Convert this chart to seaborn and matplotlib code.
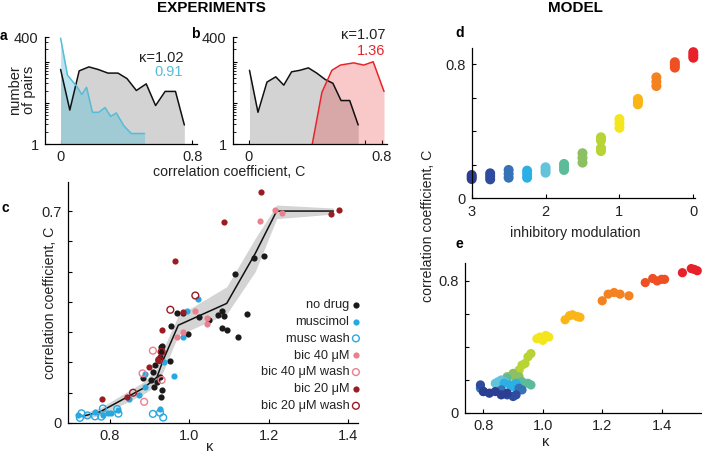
import matplotlib
matplotlib.use("Agg")
import matplotlib.pyplot as plt
from matplotlib.ticker import NullFormatter, FixedLocator
import seaborn as sns
import numpy as np
import pandas as pd

# ---------------- data ----------------
# panel a: histograms (number of pairs vs correlation coefficient)
a_nodrug_x = [0.0, 0.056, 0.113, 0.172, 0.228, 0.288, 0.349, 0.404, 0.461, 0.521, 0.578, 0.636, 0.699, 0.753]
a_nodrug_y = [65, 6.7, 60, 75, 65, 53, 53, 39, 20, 29, 8.6, 19, 19, 2.9]
a_musc_x = [0.0, 0.042, 0.099, 0.129, 0.158, 0.194, 0.232, 0.27, 0.305, 0.339, 0.384, 0.43, 0.511]
a_musc_y = [373, 47, 25, 16, 24, 5.9, 5.9, 7.7, 4.7, 5.7, 2.8, 1.8, 1.8]
# panel b
b_nodrug_x = [0.004, 0.055, 0.109, 0.162, 0.21, 0.257, 0.307, 0.358, 0.408, 0.459, 0.505, 0.554, 0.606, 0.657]
b_nodrug_y = [62, 5.9, 32, 43, 27, 57, 62, 71, 53, 37, 30, 11.4, 11.4, 2.9]
b_bic_x = [0.378, 0.439, 0.499, 0.55, 0.63, 0.69, 0.747, 0.812]
b_bic_y = [0.85, 18, 62, 83, 94, 83, 100, 19]
kappa_a = ["κ=1.02", "0.91"]
kappa_b = ["κ=1.07", "1.36"]

# panel c: correlation vs kappa, per condition
nodrug_k = [0.883, 0.903, 0.908, 0.911, 0.914, 0.919, 0.925, 0.925, 0.928, 0.929, 0.928, 0.931, 0.93, 0.95, 0.953,
            0.968, 0.983, 0.996, 1.023, 1.05, 1.073, 1.083, 1.088, 1.082, 1.096, 1.122, 1.145, 1.115, 1.164, 1.189]
nodrug_c = [0.147, 0.142, 0.169, 0.118, 0.191, 0.136, 0.153, 0.219, 0.235, 0.252, 0.085, 0.109, 0.255, 0.206, 0.321,
            0.364, 0.364, 0.294, 0.349, 0.34, 0.356, 0.37, 0.353, 0.315, 0.307, 0.283, 0.36, 0.492, 0.546, 0.551]
musc_k = [0.719, 0.763, 0.782, 0.795, 0.803, 0.82, 0.847, 0.872, 0.888, 0.888, 0.925, 0.936, 0.961, 0.983, 0.993, 1.021]
musc_c = [0.026, 0.037, 0.026, 0.032, 0.034, 0.043, 0.078, 0.092, 0.118, 0.162, 0.045, 0.202, 0.155, 0.285, 0.37, 0.408]
muscw_k = [0.724, 0.728, 0.743, 0.762, 0.778, 0.782, 0.818, 0.821, 0.908, 0.926, 0.934]
muscw_c = [0.017, 0.032, 0.025, 0.022, 0.021, 0.048, 0.046, 0.031, 0.03, 0.034, 0.018]
bic40_k = [0.968, 0.983, 1.014, 1.044, 1.045, 1.177, 1.216, 1.233]
bic40_c = [0.285, 0.301, 0.37, 0.346, 0.327, 0.668, 0.705, 0.694]
bic40w_k = [0.882, 0.886, 0.908, 0.93]
bic40w_c = [0.164, 0.07, 0.239, 0.142]
bic20_k = [0.779, 0.842, 0.899, 0.922, 0.932, 0.963, 0.984, 1.086, 1.181, 1.357, 1.378]
bic20_c = [0.078, 0.087, 0.186, 0.208, 0.306, 0.535, 0.367, 0.664, 0.763, 0.69, 0.703]
bic20w_k = [0.858, 0.924, 0.93, 0.952, 1.015]
bic20w_c = [0.10, 0.208, 0.235, 0.374, 0.421]
# binned mean and band
mean_k = [0.733, 0.775, 0.884, 0.918, 0.934, 0.972, 1.094, 1.166, 1.22, 1.363]
mean_c = [0.023, 0.037, 0.115, 0.151, 0.208, 0.323, 0.395, 0.56, 0.70, 0.70]
band_lo = [0.013, 0.025, 0.095, 0.125, 0.17, 0.29, 0.36, 0.50, 0.675, 0.69]
band_hi = [0.033, 0.05, 0.135, 0.18, 0.245, 0.355, 0.45, 0.61, 0.72, 0.71]
conditions = ["no drug", "muscimol", "musc wash", "bic 40 μM", "bic 40 μM wash", "bic 20 μM", "bic 20 μM wash"]

# panel d / e: model
modulation = [3.0, 2.75, 2.5, 2.25, 2.0, 1.75, 1.5, 1.25, 1.0, 0.75, 0.5, 0.25, 0.0]
d_C = [[0.115, 0.127, 0.139], [0.113, 0.131, 0.149], [0.123, 0.146, 0.169], [0.123, 0.144, 0.165],
       [0.153, 0.169, 0.185], [0.169, 0.187, 0.205], [0.213, 0.241, 0.269], [0.282, 0.30, 0.345, 0.364],
       [0.421, 0.447, 0.473], [0.561, 0.577, 0.593], [0.67, 0.696, 0.722], [0.78, 0.796, 0.812],
       [0.839, 0.855, 0.872]]
e_K = [[0.80, 0.82, 0.84, 0.86, 0.88], [0.79, 0.80, 0.88, 0.90, 0.91], [0.79, 0.86, 0.92, 0.93],
       [0.87, 0.89, 0.90, 0.91], [0.84, 0.85, 0.86, 0.87], [0.88, 0.93, 0.95, 0.96],
       [0.88, 0.90, 0.91, 0.92], [0.92, 0.93, 0.94, 0.95, 0.96], [0.98, 0.99, 1.00, 1.01, 1.02],
       [1.075, 1.09, 1.10, 1.115, 1.125], [1.20, 1.22, 1.24, 1.26, 1.29], [1.345, 1.37, 1.385, 1.40, 1.41],
       [1.47, 1.50, 1.51, 1.52]]
e_C = [[0.13, 0.12, 0.13, 0.11, 0.12], [0.17, 0.13, 0.11, 0.10, 0.11], [0.15, 0.14, 0.15, 0.14],
       [0.18, 0.17, 0.16, 0.18], [0.18, 0.19, 0.20, 0.19], [0.21, 0.19, 0.18, 0.17],
       [0.22, 0.24, 0.21, 0.22], [0.26, 0.29, 0.30, 0.34, 0.36], [0.45, 0.46, 0.44, 0.47, 0.46],
       [0.565, 0.59, 0.595, 0.585, 0.58], [0.68, 0.72, 0.73, 0.72, 0.71], [0.79, 0.815, 0.80, 0.81, 0.81],
       [0.85, 0.875, 0.87, 0.862]]
level_colors = ["#2c3e92", "#2f4b9e", "#3672b6", "#2bb0e6", "#63c3d9", "#5cbc9a", "#8cc063",
                "#b7d334", "#f4e61c", "#fbb516", "#f58220", "#ee5024", "#e8202a"]

# ---------------- style ----------------
sns.set_theme(style="ticks")
plt.rcParams['font.family'] = ['Liberation Sans', 'DejaVu Sans']
plt.rcParams.update({
    'axes.linewidth': 0.9, 'xtick.direction': 'in', 'ytick.direction': 'in',
    'xtick.major.size': 3, 'ytick.major.size': 3, 'xtick.minor.size': 1.8, 'ytick.minor.size': 1.8,
    'xtick.major.width': 0.8, 'ytick.major.width': 0.8, 'ytick.minor.width': 0.6,
    'xtick.labelsize': 10.5, 'ytick.labelsize': 10.5, 'xtick.color': 'black', 'ytick.color': 'black',
    'xtick.labelcolor': '#222222', 'ytick.labelcolor': '#222222',
    'xtick.major.pad': 4.5, 'ytick.major.pad': 4.5, 'axes.edgecolor': 'black', 'text.color': '#222222',
})

W, H = 702, 453
fig = plt.figure(figsize=(W / 100, H / 100), dpi=100)


def ax_px(l, t, r, b):
    ax = fig.add_axes([l / W, 1 - b / H, (r - l) / W, (b - t) / H])
    sns.despine(ax=ax)
    ax.patch.set_alpha(0)
    return ax


def txt(x, y, s, **kw):
    kw.setdefault('ha', 'center')
    kw.setdefault('va', 'center')
    fig.text(x / W, 1 - y / H, s, **kw)


GRAY = '#d3d3d3'
CYAN = '#55bdd6'
RED = '#e8242b'


def hist_axes(ax):
    ax.set_yscale('log')
    ax.set_ylim(1, 400)
    ax.set_xlim(-0.095, 0.83)
    ax.set_xticks(np.arange(0, 0.81, 0.1))
    ax.set_xticklabels(['0', '', '', '', '', '', '', '', '0.8'])
    ax.set_yticks([1, 10, 100, 400])
    ax.set_yticklabels(['1', '', '', '400'])
    ax.yaxis.set_minor_locator(FixedLocator([v for d in (1, 10, 100) for v in np.arange(2, 10) * d if v < 400]))
    ax.yaxis.set_minor_formatter(NullFormatter())
    ax.set_xlabel('')
    ax.set_ylabel('')


# ---- panel a ----
axa = ax_px(45, 37, 197, 144)
axa.fill_between(a_nodrug_x, a_nodrug_y, 0.5, color=GRAY, lw=0)
axa.fill_between(a_musc_x, a_musc_y, 0.5, color=CYAN, alpha=0.4, lw=0)
sns.lineplot(x=a_nodrug_x, y=a_nodrug_y, ax=axa, color='#111111', lw=1.1, estimator=None, sort=False)
sns.lineplot(x=a_musc_x, y=a_musc_y, ax=axa, color=CYAN, lw=1.1, estimator=None, sort=False)
hist_axes(axa)

# ---- panel b ----
axb = ax_px(233, 37, 387, 144)
axb.fill_between(b_nodrug_x, b_nodrug_y, 0.5, color=GRAY, lw=0)
axb.fill_between(b_bic_x, b_bic_y, 0.5, color=RED, alpha=0.25, lw=0)
sns.lineplot(x=b_nodrug_x, y=b_nodrug_y, ax=axb, color='#111111', lw=1.1, estimator=None, sort=False)
sns.lineplot(x=b_bic_x, y=b_bic_y, ax=axb, color=RED, lw=1.1, estimator=None, sort=False)
hist_axes(axb)

# ---- panel c ----
axc = ax_px(68, 182, 358, 423)
axc.fill_between(mean_k, band_lo, band_hi, color='#d4d4d4', lw=0)
sns.lineplot(x=mean_k, y=mean_c, ax=axc, color='#111111', lw=1.1, estimator=None, sort=False)
cond_data = [(nodrug_k, nodrug_c, '#1a1a1a', True), (musc_k, musc_c, '#29a8e0', True),
             (muscw_k, muscw_c, '#29a8e0', False), (bic40_k, bic40_c, '#ec7f8e', True),
             (bic40w_k, bic40w_c, '#ec7f8e', False), (bic20_k, bic20_c, '#9a1c22', True),
             (bic20w_k, bic20w_c, '#9a1c22', False)]
for (kx, cy, col, filled), name in zip(cond_data, conditions):
    if filled:
        sns.scatterplot(x=kx, y=cy, ax=axc, color=col, s=20, linewidth=0, label=name, zorder=3)
    else:
        sns.scatterplot(x=kx, y=cy, ax=axc, facecolor='none', edgecolor=col, s=24, linewidth=1.0,
                        label=name, zorder=3)
axc.set_xlim(0.694, 1.425)
axc.set_ylim(0, 0.796)
axc.set_xticks([0.8, 1.0, 1.2, 1.4])
axc.set_xticklabels(['0.8', '1.0', '1.2', '1.4'])
axc.set_yticks(np.arange(0, 0.71, 0.1))
axc.set_yticklabels(['0', '', '', '', '', '', '', '0.7'])
axc.set_xlabel('')
axc.set_ylabel('')
axc.legend(loc='upper right', bbox_to_anchor=(361 / W, 1 - 299 / H), bbox_transform=fig.transFigure,
           markerfirst=False, frameon=False, fontsize=9.2, handletextpad=0.1, labelspacing=0.38,
           borderaxespad=0, borderpad=0, handlelength=0.8, scatterpoints=1, labelcolor='#222222')

# ---- panel d ----
axd = ax_px(471.7, 48, 695, 198.3)
d_df = pd.DataFrame([(m, c, i) for i, (m, cs) in enumerate(zip(modulation, d_C)) for c in cs],
                    columns=['modulation', 'C', 'level'])
sns.scatterplot(data=d_df, x='modulation', y='C', hue='level', palette=level_colors, ax=axd,
                s=52, linewidth=0, legend=False, clip_on=False)
axd.set_xlim(3, -0.023)
axd.set_ylim(0, 0.897)
axd.set_xticks([3, 2, 1, 0])
axd.set_xticklabels(['3', '2', '1', '0'])
axd.set_yticks([0, 0.2, 0.4, 0.6, 0.8])
axd.set_yticklabels(['0', '', '', '', '0.8'])
axd.set_xlabel('')
axd.set_ylabel('')

# ---- panel e ----
axe = ax_px(465, 263.3, 701.7, 413)
e_df = pd.DataFrame([(k, c, i) for i in range(len(e_K)) for k, c in zip(e_K[i], e_C[i])],
                    columns=['kappa', 'C', 'level'])
e_df = e_df.iloc[::-1]
sns.scatterplot(data=e_df, x='kappa', y='C', hue='level', palette=level_colors, ax=axe,
                s=44, linewidth=0, legend=False, clip_on=False)
axe.set_xlim(0.738, 1.535)
axe.set_ylim(0, 0.907)
axe.set_xticks([0.8, 1.0, 1.2, 1.4])
axe.set_xticklabels(['0.8', '1.0', '1.2', '1.4'])
axe.set_yticks([0, 0.2, 0.4, 0.6, 0.8])
axe.set_yticklabels(['0', '', '', '', '0.8'])
axe.set_xlabel('')
axe.set_ylabel('')

# ---------------- text ----------------
txt(211, 8, 'EXPERIMENTS', fontsize=11, fontweight='bold', color='black')
txt(575, 8, 'MODEL', fontsize=11, fontweight='bold', color='black')
for lab, (x, y) in zip('abcde', [(0, 36), (191, 34), (2, 208), (455, 33), (455, 244)]):
    txt(x, y, lab, fontsize=10, fontweight='bold', ha='left', color='black')
txt(22, 90, 'number\nof pairs', fontsize=10.5, rotation=90, linespacing=1.0)
txt(229, 172, 'correlation coefficient, C', fontsize=10.2)
txt(183, 58, kappa_a[0], fontsize=10.5, ha='right')
txt(183, 72.5, kappa_a[1], fontsize=10.5, ha='right', color=CYAN)
txt(385, 35, kappa_b[0], fontsize=10.5, ha='right')
txt(385, 51, kappa_b[1], fontsize=10.5, ha='right', color=RED)
txt(50, 303, 'correlation coefficient, C', fontsize=10.2, rotation=90)
txt(210, 447, 'κ', fontsize=10.5)
txt(575, 233, 'inhibitory modulation', fontsize=10.2)
txt(546, 442, 'κ', fontsize=10.5)
txt(428, 226, 'correlation coefficient, C', fontsize=10.2, rotation=90)

fig.savefig('out.png', dpi=100)
